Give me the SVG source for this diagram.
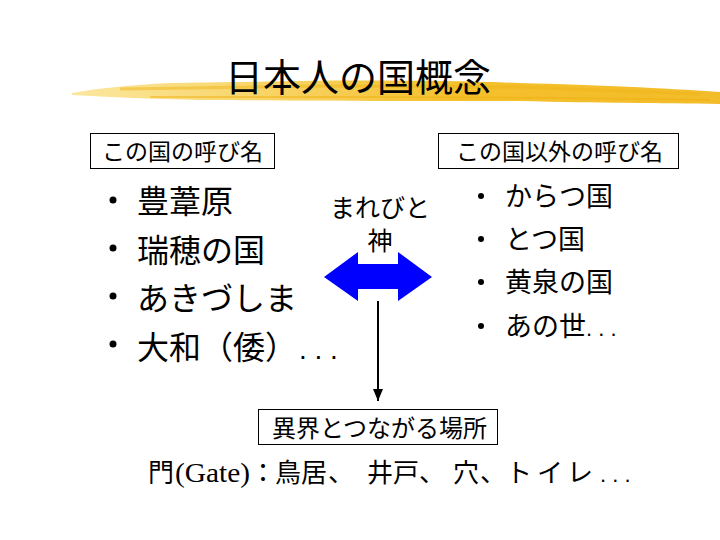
<svg xmlns="http://www.w3.org/2000/svg" width="720" height="540" viewBox="0 0 720 540">
<style>
text{font-family:"Noto Sans CJK JP","Noto Sans",sans-serif;fill:#000}
.box{fill:#fff;stroke:#000;stroke-width:1}
.hdr{font-size:23px}
.li{font-size:32px}
.ri{font-size:27px}
.dot{font-family:"Liberation Sans",sans-serif}
</style>
<defs>
<linearGradient id="brush" x1="0" y1="0" x2="1" y2="0">
<stop offset="0" stop-color="#fbe7a0"/>
<stop offset="0.3" stop-color="#f8d466"/>
<stop offset="0.6" stop-color="#f4c02c"/>
<stop offset="1" stop-color="#f3bc2a"/>
</linearGradient>
<marker id="ah" markerWidth="12" markerHeight="10" refX="12" refY="5" orient="auto" markerUnits="userSpaceOnUse">
<path d="M0,0 L12,5 L0,10 Z" fill="#000"/>
</marker>
</defs>
<rect width="720" height="540" fill="#fff"/>
<g id="title">
<path d="M72,93 C100,88 130,85 170,83 L300,81 C380,80 460,81 520,83 C600,85 660,88 720,92 L720,104 C660,103 600,103 520,101 L420,101 C330,101 250,100 200,100 C150,99 110,97 72,95 Z" fill="url(#brush)"/>
<path d="M120,89 L330,86 L520,87 L700,94" stroke="#f0b418" stroke-width="3" fill="none" opacity="0.5"/>
<path d="M150,97 L360,97 L560,98 L710,100" stroke="#efb010" stroke-width="2" fill="none" opacity="0.5"/>
<text x="225" y="91" font-size="38">日本人の国概念</text>
</g>
<g id="left-header">
<rect class="box" x="90.500" y="133.500" width="184" height="35"/>
<text class="hdr" x="102" y="160">この国の呼び名</text>
</g>
<g id="left-list">
<circle cx="113" cy="200" r="3.5"/>
<circle cx="113" cy="248" r="3.5"/>
<circle cx="113" cy="296" r="3.5"/>
<circle cx="113" cy="344" r="3.5"/>
<text class="li" x="137" y="213">豊葦原</text>
<text class="li" x="137" y="262">瑞穂の国</text>
<text class="li" x="137" y="310">あきづしま</text>
<text class="li" x="137" y="359">大和（倭）</text>
<text class="dot" x="299" y="359" font-size="28">. . .</text>
</g>
<g id="right-header">
<rect class="box" x="438.500" y="133.500" width="240" height="35"/>
<text class="hdr" x="456" y="160">この国以外の呼び名</text>
</g>
<g id="right-list">
<circle cx="481" cy="196" r="3"/>
<circle cx="481" cy="239" r="3"/>
<circle cx="481" cy="282" r="3"/>
<circle cx="481" cy="326" r="3"/>
<text class="ri" x="505" y="206">からつ国</text>
<text class="ri" x="505" y="249">とつ国</text>
<text class="ri" x="505" y="292">黄泉の国</text>
<text class="ri" x="505" y="336">あの世</text>
<text class="dot" x="586" y="336" font-size="22">. . .</text>
</g>
<g id="marebito">
<text x="380" y="217" font-size="25" text-anchor="middle">まれびと</text>
<text x="380" y="250" font-size="25" text-anchor="middle">神</text>
</g>
<g id="connectors">
<polygon points="324,277 358,252 358,264 398,264 398,252 432,277 398,301 398,289 358,289 358,301" fill="#0000ff"/>
<line x1="378" y1="301" x2="378" y2="401" stroke="#000" stroke-width="2" marker-end="url(#ah)"/>
</g>
<g id="other-world">
<rect class="box" x="258.500" y="409.500" width="239" height="35"/>
<text x="272" y="437" font-size="24">異界とつながる場所</text>
</g>
<g id="gates">
<text font-size="26" y="482"><tspan x="148">門</tspan><tspan x="175" font-family="'Liberation Serif',serif" font-size="27" textLength="75" lengthAdjust="spacingAndGlyphs">(Gate)</tspan><tspan x="250">：</tspan><tspan x="275">鳥居</tspan><tspan x="328">、</tspan><tspan x="367">井戸</tspan><tspan x="419">、</tspan><tspan x="453">穴</tspan><tspan x="480">、</tspan><tspan x="506">ト</tspan><tspan x="537">イ</tspan><tspan x="567">レ</tspan><tspan x="600" font-family="'Liberation Sans',sans-serif" font-size="22">. . .</tspan></text>
</g>
</svg>
